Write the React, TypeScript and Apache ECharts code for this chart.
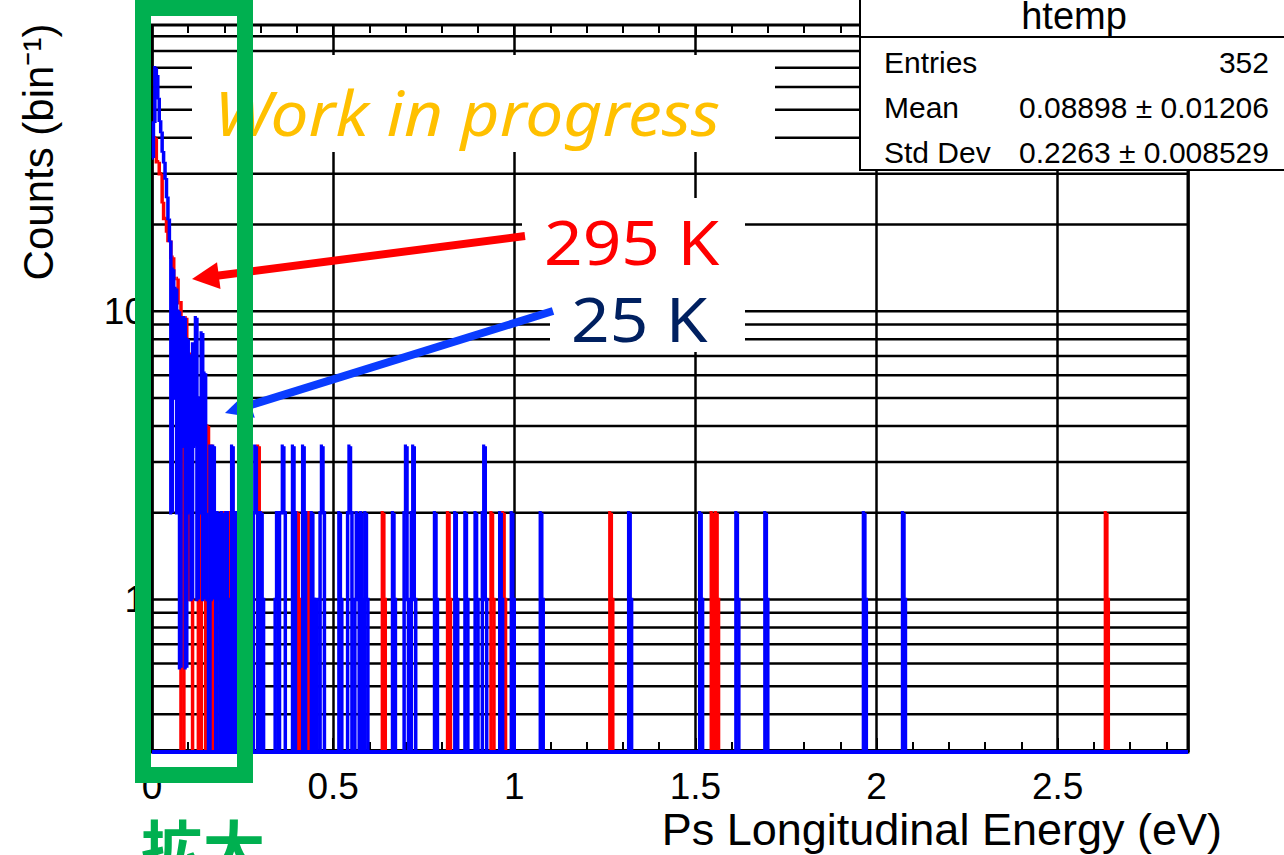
import React, { useEffect, useRef } from "react";
import * as echarts from "echarts";

// Histogram binning and axis ranges
const BIN = 0.004; // eV per bin
const X_MIN = 0;
const X_MAX = 2.86;
const Y_MIN = 0.296;
const Y_MAX = 98.4;
const X_INTERVAL = 0.5;

// Log-scale grid levels (ROOT style: 1..9 of every decade)
const yGridLevels = [
  0.3, 0.4, 0.5, 0.6, 0.7, 0.8, 0.9,
  1, 2, 3, 4, 5, 6, 7, 8, 9,
  10, 20, 30, 40, 50, 60, 70, 80, 90,
];
const yLabelled = [1, 10];

// 295 K sample: [bin low edge (eV), counts]
const red295K: [number, number][] = [
  [0.0, 40], [0.004, 40], [0.008, 40], [0.012, 33], [0.016, 33], [0.02, 30], [0.024, 30],
  [0.028, 24], [0.032, 21], [0.036, 21], [0.04, 19], [0.044, 17.6], [0.048, 17.6],
  [0.052, 15.4], [0.056, 15.4], [0.06, 13], [0.064, 13], [0.068, 13], [0.072, 10.7],
  [0.076, 10.7],
  [0.088, 9.5], [0.092, 9.5], [0.096, 2], [0.1, 1], [0.104, 7.1], [0.108, 1],
  [0.128, 2], [0.132, 1],
  [0.148, 2], [0.152, 4], [0.156, 2], [0.164, 3.4], [0.168, 1],
  [0.192, 2], [0.196, 1], [0.2, 2], [0.204, 2], [0.208, 1], [0.212, 2],
  [0.228, 1],
  [0.292, 3.4], [0.296, 2],
  [0.4, 2], [0.404, 1],
  [0.432, 2], [0.436, 1],
  [0.636, 2], [0.64, 1],
  [0.816, 2], [0.82, 1],
  [0.936, 2], [0.94, 1],
  [0.968, 2], [0.972, 1],
  [1.264, 2], [1.268, 1],
  [1.544, 2], [1.548, 1], [1.556, 2], [1.56, 1],
  [2.632, 2], [2.636, 1],
];

// 25 K sample: [bin low edge (eV), counts]
const blue25K: [number, number][] = [
  [0.0, 34], [0.004, 45], [0.008, 70], [0.012, 66], [0.016, 55], [0.02, 46],
  [0.024, 42], [0.028, 36], [0.032, 33], [0.036, 29], [0.04, 25], [0.044, 21],
  [0.048, 17.6], [0.052, 2], [0.056, 14], [0.06, 5], [0.064, 12], [0.068, 2],
  [0.072, 10], [0.076, 0.58], [0.08, 9.5], [0.084, 3.4], [0.088, 9.5], [0.092, 0.58],
  [0.096, 8], [0.1, 2], [0.104, 7], [0.108, 1], [0.112, 7.7], [0.116, 3.4],
  [0.12, 9.5], [0.124, 1], [0.128, 5], [0.132, 2], [0.136, 8.4], [0.14, 1],
  [0.144, 6.1], [0.148, 2], [0.152, 1],
  [0.16, 3.4], [0.164, 1], [0.168, 3.4], [0.172, 2],
  [0.18, 2], [0.184, 1],
  [0.192, 2], [0.196, 1],
  [0.204, 2],
  [0.212, 1],
  [0.22, 3.4], [0.224, 2],
  [0.232, 1], [0.236, 2],
  [0.244, 1],
  [0.28, 2], [0.284, 3.4], [0.288, 2],
  [0.3, 2], [0.304, 1],
  [0.34, 1], [0.344, 2], [0.352, 2], [0.356, 2], [0.36, 3.4], [0.364, 2],
  [0.388, 3.4], [0.392, 2],
  [0.416, 3.4], [0.42, 2],
  [0.44, 2], [0.444, 1], [0.452, 1],
  [0.464, 2], [0.468, 3.4], [0.472, 2],
  [0.516, 2], [0.52, 1],
  [0.54, 2], [0.544, 3.4], [0.548, 2],
  [0.56, 1], [0.564, 2], [0.568, 1], [0.576, 2], [0.58, 1], [0.588, 2], [0.592, 1],
  [0.664, 2], [0.668, 1],
  [0.696, 2], [0.7, 3.4], [0.704, 1], [0.716, 2], [0.72, 3.4], [0.724, 1],
  [0.78, 2], [0.784, 1],
  [0.836, 2], [0.84, 1],
  [0.864, 2], [0.868, 1],
  [0.892, 2], [0.896, 1],
  [0.912, 2], [0.916, 3.4], [0.92, 1],
  [0.96, 2], [0.964, 1],
  [0.992, 2], [0.996, 1],
  [1.072, 2], [1.076, 1],
  [1.316, 2], [1.32, 1],
  [1.512, 2], [1.516, 1],
  [1.612, 2], [1.616, 1],
  [1.692, 2], [1.696, 1],
  [1.964, 2], [1.968, 1],
  [2.072, 2], [2.076, 1],
];

// Statistics box of the drawn histogram
const statsTitle = "htemp";
const statsRows: [string, string][] = [
  ["Entries", "352"],
  ["Mean", "0.08898 \u00b1 0.01206"],
  ["Std Dev", "0.2263 \u00b1 0.008529"],
];

const RED = "#ff0000";
const BLUE = "#0000ff";
const GREEN = "#00b050";
const AXIS_FONT = "Liberation Sans";

// ROOT-like histogram outline: each non-empty bin draws its left edge from the
// previous level, its top, and drops to the frame bottom when followed by an empty bin.
// The very first bin starts at its own level, as ROOT does at the axis minimum.
function histRenderer(data: [number, number][], color: string) {
  return (params: any, api: any) => {
    const i = params.dataIndex;
    const [e, v] = data[i];
    const cs = params.coordSys;
    const bottom = cs.y + cs.height;
    const yOf = (val: number) => (val > 0 ? Math.min(api.coord([e, val])[1], bottom) : bottom);
    const xl = api.coord([e, v])[0];
    const xr = api.coord([e + BIN, v])[0];
    const prev = data[i - 1];
    const next = data[i + 1];
    const prevAdj = prev && Math.abs(prev[0] + BIN - e) < 1e-6;
    const nextAdj = next && Math.abs(e + BIN - next[0]) < 1e-6;
    const y = yOf(v);
    const atStart = Math.abs(e - X_MIN) < 1e-9;
    const yPrev = prevAdj ? yOf(prev[1]) : atStart ? y : bottom;
    const pts: number[][] = [[xl, yPrev], [xl, y], [xr, y]];
    if (!nextAdj) pts.push([xr, bottom]);
    const children: any[] = [
      {
        type: "polyline",
        shape: { points: pts },
        style: { stroke: color, lineWidth: 3.5, fill: null, lineJoin: "miter" },
      },
    ];
    if (i === 0) {
      // empty bins sit on the frame bottom
      children.push({
        type: "line",
        shape: { x1: cs.x, y1: bottom, x2: cs.x + cs.width, y2: bottom },
        style: { stroke: color, lineWidth: 4 },
      });
    }
    return { type: "group", children };
  };
}

function arrow(x1: number, y1: number, x2: number, y2: number, color: string) {
  const dx = x2 - x1;
  const dy = y2 - y1;
  const len = Math.hypot(dx, dy);
  const ux = dx / len;
  const uy = dy / len;
  const headLen = 27;
  const headW = 27;
  const bx = x2 - ux * headLen;
  const by = y2 - uy * headLen;
  const nx = -uy;
  const ny = ux;
  return [
    {
      type: "line",
      z: 110,
      shape: { x1, y1, x2: bx + ux * 2, y2: by + uy * 2 },
      style: { stroke: color, lineWidth: 8 },
    },
    {
      type: "polygon",
      z: 110,
      shape: {
        points: [
          [x2, y2],
          [bx + (nx * headW) / 2, by + (ny * headW) / 2],
          [bx - (nx * headW) / 2, by - (ny * headW) / 2],
        ],
      },
      style: { fill: color },
    },
  ];
}

export default function App() {
  const ref = useRef<HTMLDivElement>(null);

  useEffect(() => {
    if (!ref.current) return;
    const chart = echarts.init(ref.current, null, { renderer: "svg" });

    const whiteBox = (x: number, y: number, w: number, h: number) => ({
      type: "rect",
      z: 100,
      shape: { x, y, width: w, height: h },
      style: { fill: "#ffffff" },
    });

    const statsX = 860;
    const graphic: any[] = [
      // label backgrounds
      whiteBox(192, 55, 583, 97),
      whiteBox(522, 198, 223, 87),
      whiteBox(550, 285, 195, 67),
      {
        type: "text",
        z: 105,
        x: 214,
        y: 112,
        scaleX: 1.09,
        style: {
          text: "Work in progress",
          fill: "#ffc000",
          font: "italic 400 62px 'Noto Sans'",
          verticalAlign: "middle",
          align: "left",
        },
      },
      {
        type: "text",
        z: 105,
        x: 544,
        y: 241,
        scaleX: 1.09,
        style: {
          text: "295 K",
          fill: RED,
          font: "400 62px 'Noto Sans'",
          verticalAlign: "middle",
          align: "left",
        },
      },
      {
        type: "text",
        z: 105,
        x: 571,
        y: 318,
        scaleX: 1.09,
        style: {
          text: "25 K",
          fill: "#002060",
          font: "400 62px 'Noto Sans'",
          verticalAlign: "middle",
          align: "left",
        },
      },
      ...arrow(525, 236, 192, 279, RED),
      ...arrow(553, 311, 225, 413, "#0a3cff"),
      // statistics box
      {
        type: "rect",
        z: 100,
        shape: { x: statsX, y: -10, width: 440, height: 180 },
        style: { fill: "#ffffff", stroke: "#000000", lineWidth: 2 },
      },
      {
        type: "line",
        z: 101,
        shape: { x1: statsX, y1: 37, x2: 1284, y2: 37 },
        style: { stroke: "#000000", lineWidth: 2 },
      },
      {
        type: "text",
        z: 101,
        x: 1074,
        y: 35,
        style: {
          text: statsTitle,
          fill: "#000",
          font: `38px '${AXIS_FONT}'`,
          align: "center",
          verticalAlign: "bottom",
        },
      },
      ...statsRows.flatMap(([k, val], r) => [
        {
          type: "text",
          z: 101,
          x: 884,
          y: 62 + r * 45,
          style: { text: k, fill: "#000", font: `30px '${AXIS_FONT}'`, align: "left", verticalAlign: "middle" },
        },
        {
          type: "text",
          z: 101,
          x: 1269,
          y: 62 + r * 45,
          style: { text: val, fill: "#000", font: `30px '${AXIS_FONT}'`, align: "right", verticalAlign: "middle" },
        },
      ]),
      // axis titles
      {
        type: "text",
        z: 101,
        x: 38,
        y: 152,
        rotation: Math.PI / 2,
        style: {
          text: "Counts (bin\u207b\u00b9)",
          fill: "#000",
          font: `42px '${AXIS_FONT}'`,
          align: "center",
          verticalAlign: "middle",
        },
      },
      {
        type: "text",
        z: 101,
        x: 1222,
        y: 829,
        style: {
          text: "Ps Longitudinal Energy (eV)",
          fill: "#000",
          font: `45px '${AXIS_FONT}'`,
          align: "right",
          verticalAlign: "middle",
        },
      },
      // highlighted low-energy region
      {
        type: "rect",
        z: 120,
        shape: { x: 143, y: 8, width: 102, height: 767 },
        style: { fill: null, stroke: GREEN, lineWidth: 16 },
      },
      {
        type: "text",
        z: 120,
        x: 141,
        y: 815,
        style: {
          text: "拡大",
          fill: GREEN,
          font: "bold 62px 'Noto Sans CJK JP'",
          align: "left",
          verticalAlign: "top",
        },
      },
    ];

    chart.setOption({
      animation: false,
      backgroundColor: "#ffffff",
      grid: {
        left: 152,
        top: 25,
        width: 1036,
        height: 727,
        show: true,
        borderColor: "#000",
        borderWidth: 3,
        backgroundColor: "transparent",
      },
      xAxis: [
        {
          type: "value",
          min: X_MIN,
          max: X_MAX,
          interval: X_INTERVAL,
          axisLine: { show: false },
          axisTick: { show: true, inside: true, length: 14, lineStyle: { color: "#000", width: 2 } },
          minorTick: { show: true, splitNumber: 5, length: 10, lineStyle: { color: "#000", width: 2 } },
          splitLine: { show: true, lineStyle: { color: "#000", width: 2.5 } },
          axisLabel: {
            show: true,
            showMaxLabel: false,
            margin: 16,
            color: "#000",
            fontFamily: AXIS_FONT,
            fontSize: 37,
          },
        },
        {
          type: "value",
          position: "top",
          min: X_MIN,
          max: X_MAX,
          interval: X_INTERVAL,
          axisLine: { show: false },
          axisTick: { show: true, inside: true, length: 10, lineStyle: { color: "#000", width: 2 } },
          minorTick: { show: true, splitNumber: 5, length: 8, lineStyle: { color: "#000", width: 2 } },
          splitLine: { show: false },
          axisLabel: { show: false },
        },
      ],
      yAxis: {
        type: "log",
        logBase: 10,
        min: Y_MIN,
        max: Y_MAX,
        axisLine: { show: false },
        axisTick: { show: false },
        splitLine: { show: false },
        axisLabel: {
          show: true,
          showMinLabel: false,
          showMaxLabel: false,
          margin: 7,
          color: "#000",
          fontFamily: AXIS_FONT,
          fontSize: 37,
          formatter: (v: number) => (yLabelled.some((l) => Math.abs(l - v) < 1e-9) ? String(v) : ""),
        },
      },
      series: [
        {
          type: "custom",
          name: "grid",
          z: 1,
          silent: true,
          data: yGridLevels.map((v) => [X_MIN, v]),
          renderItem: (params: any, api: any) => {
            const cs = params.coordSys;
            const y = api.coord([X_MIN, api.value(1)])[1];
            return {
              type: "line",
              shape: { x1: cs.x, y1: y, x2: cs.x + cs.width, y2: y },
              style: { stroke: "#000", lineWidth: 2.5 },
            };
          },
        },
        {
          type: "custom",
          name: "295 K",
          z: 3,
          data: red295K,
          renderItem: histRenderer(red295K, RED),
        },
        {
          type: "custom",
          name: "25 K",
          z: 4,
          data: blue25K,
          renderItem: histRenderer(blue25K, BLUE),
        },
      ],
      graphic,
    });

    return () => chart.dispose();
  }, []);

  return (
    <div
      ref={ref}
      style={{ position: "fixed", left: 0, top: 0, width: 1284, height: 855, background: "#fff" }}
    />
  );
}
